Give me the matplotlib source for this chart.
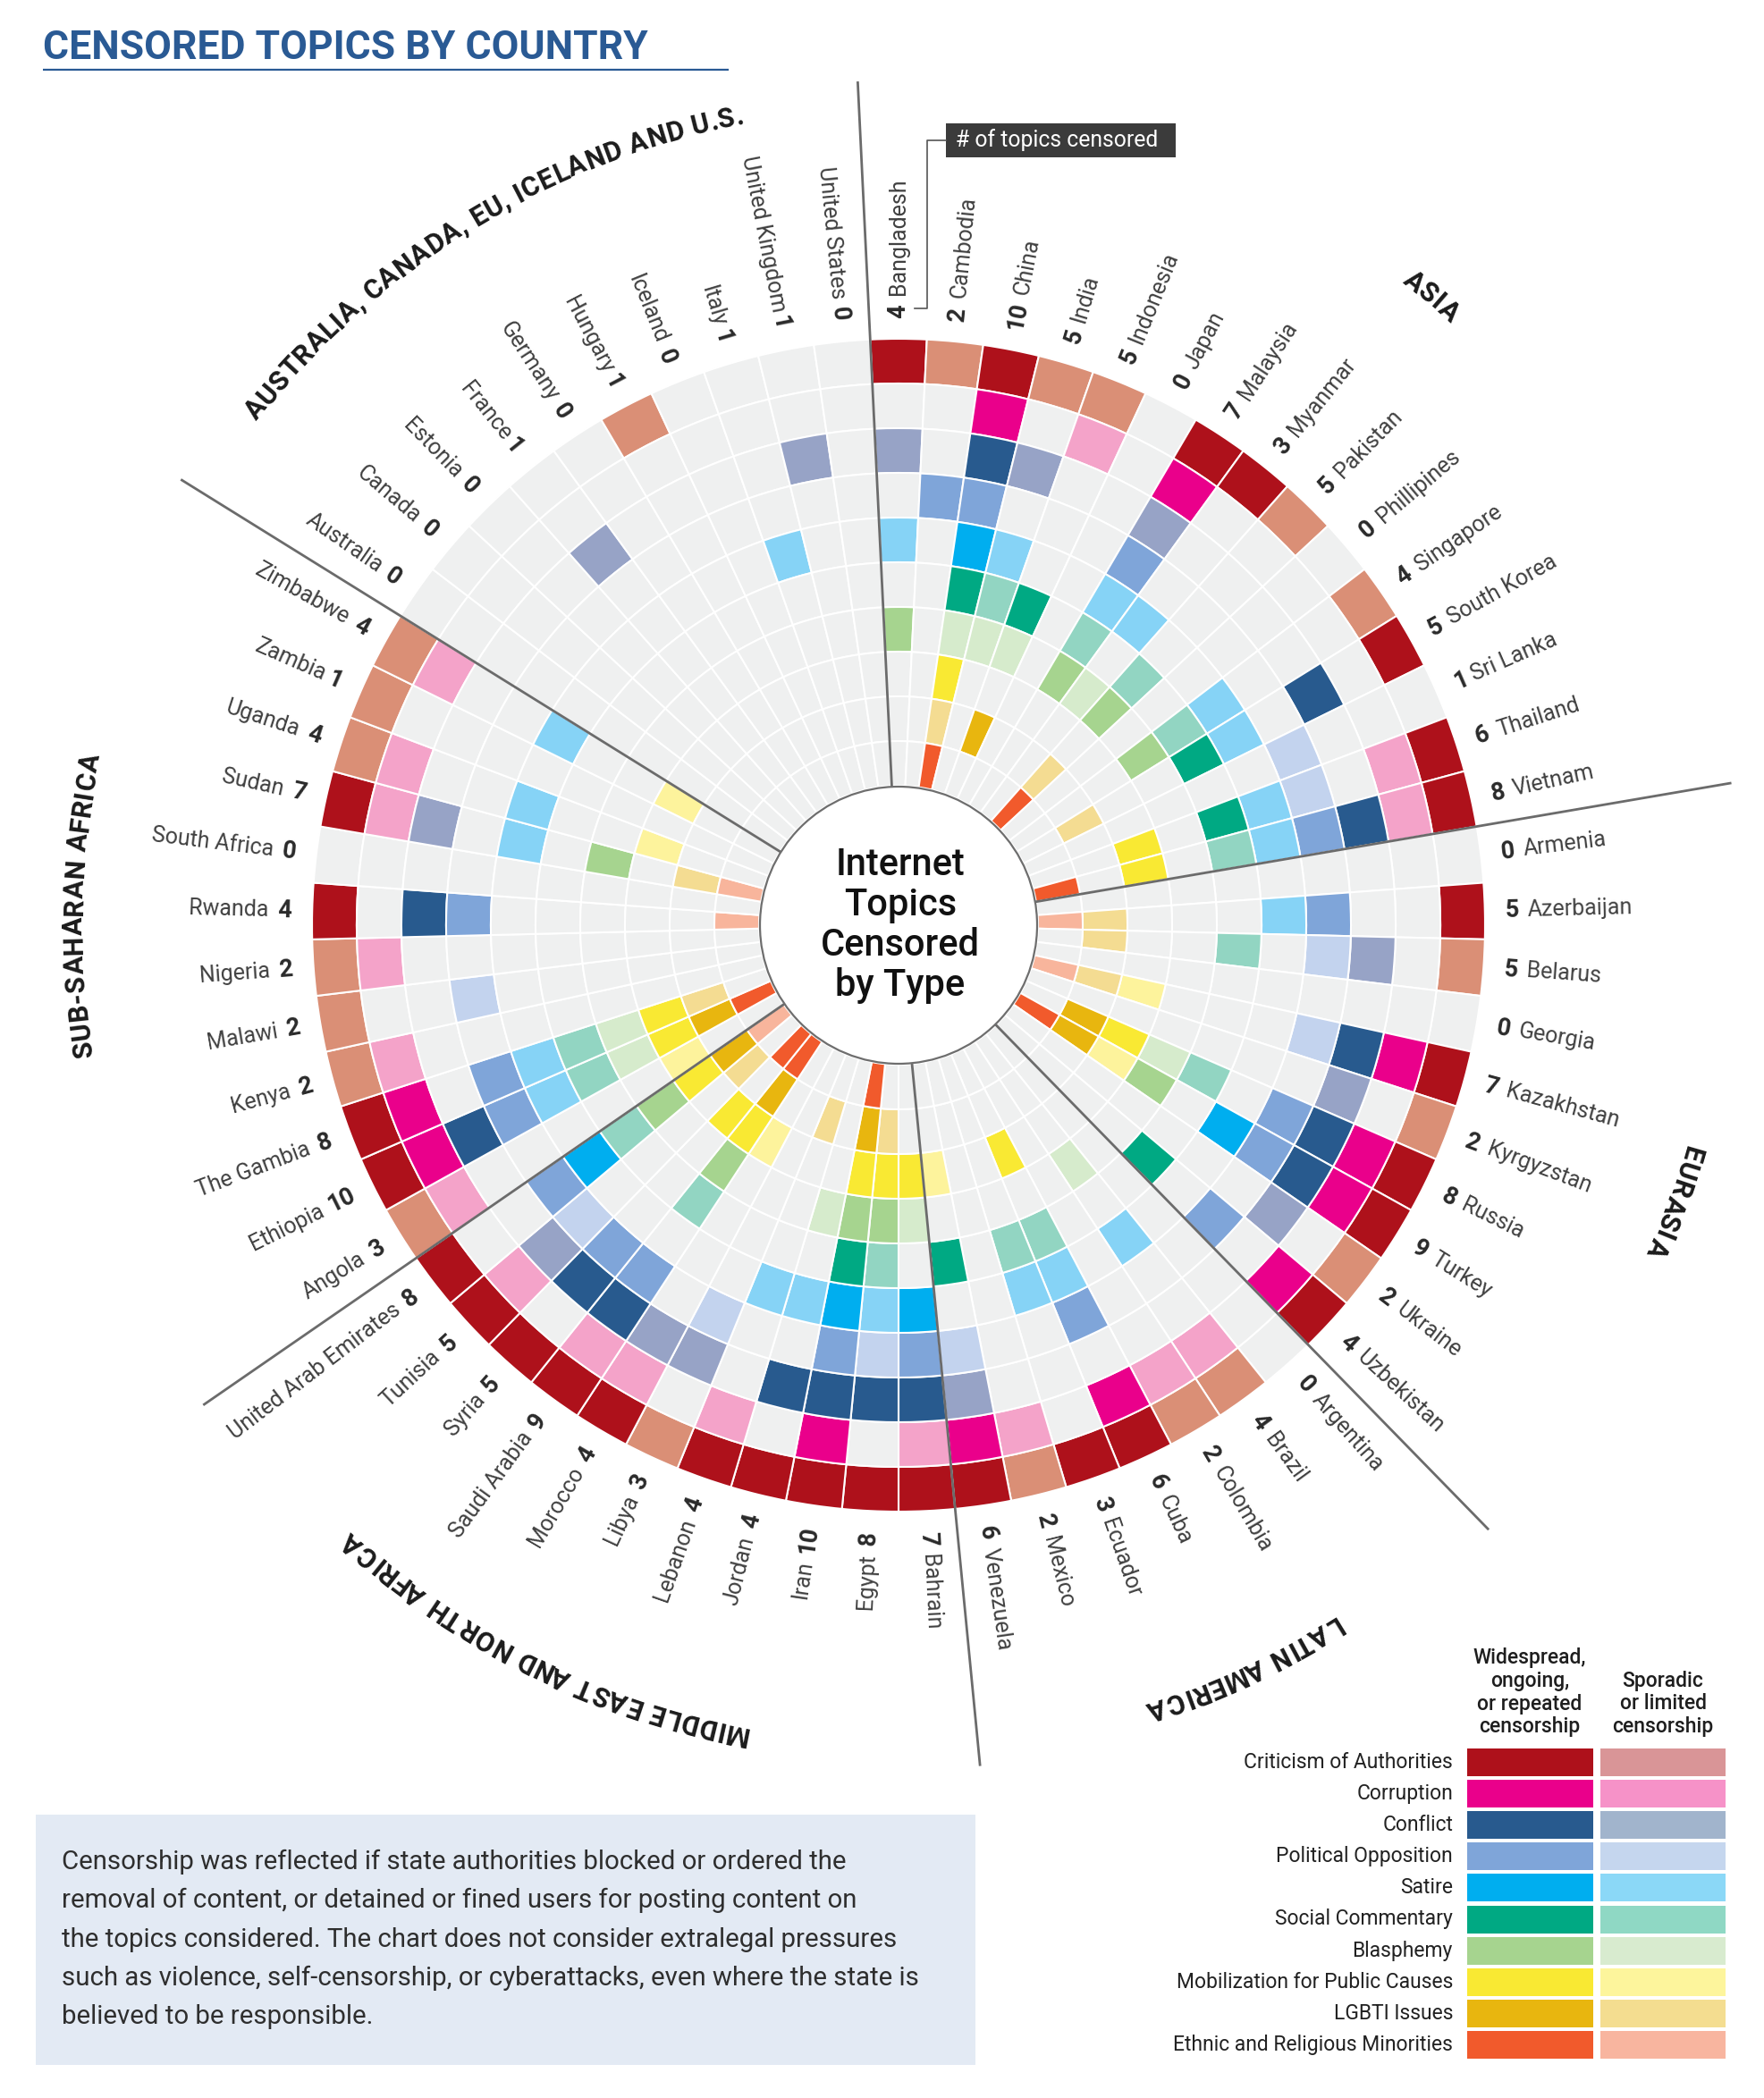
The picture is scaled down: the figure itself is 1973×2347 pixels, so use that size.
import numpy as np
import matplotlib
matplotlib.use('Agg')
import matplotlib.pyplot as plt
from matplotlib.patches import Wedge, Circle, Rectangle
from matplotlib.textpath import TextPath
from matplotlib.font_manager import FontProperties, fontManager

# ---------------------------------------------------------------- data
topics = ['Criticism of Authorities', 'Corruption', 'Conflict', 'Political Opposition',
          'Satire', 'Social Commentary', 'Blasphemy', 'Mobilization for Public Causes',
          'LGBTI Issues', 'Ethnic and Religious Minorities']

regions = ['ASIA', 'EURASIA', 'LATIN AMERICA', 'MIDDLE EAST AND NORTH AFRICA',
           'SUB-SAHARAN AFRICA', 'AUSTRALIA, CANADA, EU, ICELAND AND U.S.']

# level per topic (topic order above): 2 = widespread, 1 = sporadic, 0 = none
asia_countries = ['Bangladesh', 'Cambodia', 'China', 'India', 'Indonesia', 'Japan', 'Malaysia',
                  'Myanmar', 'Pakistan', 'Phillipines', 'Singapore', 'South Korea', 'Sri Lanka',
                  'Thailand', 'Vietnam']
asia_levels = [
    [2, 0, 1, 0, 1, 0, 2, 0, 0, 0],
    [1, 0, 0, 2, 0, 0, 0, 0, 0, 0],
    [2, 2, 2, 2, 2, 2, 1, 2, 1, 2],
    [1, 0, 1, 0, 1, 1, 1, 0, 0, 0],
    [1, 1, 0, 0, 0, 2, 1, 0, 2, 0],
    [0, 0, 0, 0, 0, 0, 0, 0, 0, 0],
    [2, 2, 1, 2, 1, 1, 2, 0, 0, 0],
    [2, 0, 0, 0, 1, 0, 1, 0, 0, 0],
    [1, 0, 0, 0, 0, 1, 2, 0, 1, 2],
    [0, 0, 0, 0, 0, 0, 0, 0, 0, 0],
    [1, 0, 0, 0, 1, 1, 2, 0, 0, 0],
    [2, 0, 2, 0, 1, 2, 0, 0, 1, 0],
    [0, 0, 0, 1, 0, 0, 0, 0, 0, 0],
    [2, 1, 0, 1, 1, 2, 0, 2, 0, 0],
    [2, 1, 2, 2, 1, 1, 0, 2, 0, 2],
]
eurasia_countries = ['Armenia', 'Azerbaijan', 'Belarus', 'Georgia', 'Kazakhstan', 'Kyrgyzstan',
                     'Russia', 'Turkey', 'Ukraine', 'Uzbekistan']
eurasia_levels = [
    [0, 0, 0, 0, 0, 0, 0, 0, 0, 0],
    [2, 0, 0, 2, 1, 0, 0, 0, 1, 1],
    [1, 0, 1, 1, 0, 1, 0, 0, 1, 0],
    [0, 0, 0, 0, 0, 0, 0, 0, 0, 0],
    [2, 2, 2, 1, 0, 0, 0, 1, 1, 1],
    [1, 0, 1, 0, 0, 0, 0, 0, 0, 0],
    [2, 2, 2, 2, 0, 1, 1, 2, 2, 0],
    [2, 2, 2, 2, 2, 0, 2, 1, 2, 2],
    [1, 0, 1, 0, 0, 0, 0, 0, 0, 0],
    [2, 2, 0, 2, 0, 2, 0, 0, 0, 0],
]
latam_countries = ['Argentina', 'Brazil', 'Colombia', 'Cuba', 'Ecuador', 'Mexico', 'Venezuela']
latam_levels = [
    [0, 0, 0, 0, 0, 0, 0, 0, 0, 0],
    [1, 1, 0, 0, 1, 0, 1, 0, 0, 0],
    [1, 1, 0, 0, 0, 0, 0, 0, 0, 0],
    [2, 2, 0, 2, 1, 1, 0, 2, 0, 0],
    [2, 0, 0, 0, 1, 1, 0, 0, 0, 0],
    [1, 1, 0, 0, 0, 0, 0, 0, 0, 0],
    [2, 2, 1, 1, 0, 2, 0, 1, 0, 0],
]
mena_countries = ['Bahrain', 'Egypt', 'Iran', 'Jordan', 'Lebanon', 'Libya', 'Morocco',
                  'Saudi Arabia', 'Syria', 'Tunisia', 'United Arab Emirates']
mena_levels = [
    [2, 1, 2, 2, 2, 0, 1, 2, 0, 0],
    [2, 0, 2, 1, 1, 1, 2, 2, 1, 0],
    [2, 2, 2, 2, 2, 2, 2, 2, 2, 2],
    [2, 0, 2, 0, 1, 0, 1, 0, 0, 0],
    [2, 1, 0, 0, 1, 0, 0, 0, 1, 0],
    [1, 0, 1, 1, 0, 0, 0, 0, 0, 0],
    [2, 1, 1, 0, 0, 0, 0, 1, 0, 0],
    [2, 1, 2, 2, 0, 1, 2, 2, 2, 2],
    [2, 0, 2, 2, 0, 0, 0, 2, 0, 2],
    [2, 1, 1, 1, 0, 0, 0, 0, 1, 0],
    [2, 0, 0, 2, 2, 1, 2, 2, 2, 1],
]
ssa_countries = ['Angola', 'Ethiopia', 'The Gambia', 'Kenya', 'Malawi', 'Nigeria', 'Rwanda',
                 'South Africa', 'Sudan', 'Uganda', 'Zambia', 'Zimbabwe']
ssa_levels = [
    [1, 1, 0, 0, 0, 0, 0, 1, 0, 0],
    [2, 2, 2, 2, 1, 1, 1, 2, 2, 2],
    [2, 2, 0, 2, 1, 1, 1, 2, 1, 0],
    [1, 1, 0, 0, 0, 0, 0, 0, 0, 0],
    [1, 0, 0, 1, 0, 0, 0, 0, 0, 0],
    [1, 1, 0, 0, 0, 0, 0, 0, 0, 0],
    [2, 0, 2, 2, 0, 0, 0, 0, 0, 1],
    [0, 0, 0, 0, 0, 0, 0, 0, 0, 0],
    [2, 1, 1, 0, 1, 0, 2, 0, 1, 1],
    [1, 1, 0, 0, 1, 0, 0, 1, 0, 0],
    [1, 0, 0, 0, 0, 0, 0, 0, 0, 0],
    [1, 1, 0, 0, 1, 0, 0, 1, 0, 0],
]
west_countries = ['Australia', 'Canada', 'Estonia', 'France', 'Germany', 'Hungary', 'Iceland',
                  'Italy', 'United Kingdom', 'United States']
west_levels = [
    [0, 0, 0, 0, 0, 0, 0, 0, 0, 0],
    [0, 0, 0, 0, 0, 0, 0, 0, 0, 0],
    [0, 0, 0, 0, 0, 0, 0, 0, 0, 0],
    [0, 0, 1, 0, 0, 0, 0, 0, 0, 0],
    [0, 0, 0, 0, 0, 0, 0, 0, 0, 0],
    [1, 0, 0, 0, 0, 0, 0, 0, 0, 0],
    [0, 0, 0, 0, 0, 0, 0, 0, 0, 0],
    [0, 0, 0, 0, 1, 0, 0, 0, 0, 0],
    [0, 0, 1, 0, 0, 0, 0, 0, 0, 0],
    [0, 0, 0, 0, 0, 0, 0, 0, 0, 0],
]

# ---------------------------------------------------------------- styles
dark = ['#ae111b', '#ea008b', '#285a8e', '#7fa5d9', '#00aeef', '#00a983',
        '#a6d48f', '#f9e933', '#e8b60f', '#f15a2c']
light = ['#da8f76', '#f4a3c9', '#97a3c6', '#c3d3ee', '#86d3f6', '#92d5c2',
         '#d6ebcc', '#fdf39c', '#f4dc92', '#f8b59c']
legend_light = ['#d99597', '#f692c8', '#a1b4cc', '#c5d6ee', '#8bd8f7', '#8fd8c4',
                '#d8ebcf', '#fdf59c', '#f4dd90', '#f8b59f']
GRAY = '#eff0f0'
TITLE_BLUE = '#2a5a94'
region_label_shift = [1.5, 1.6, 0.0, 1.4, 2.8, -0.9]   # degrees, hand placement

names_avail = {f.name for f in fontManager.ttflist}
BASE = 'Roboto' if 'Roboto' in names_avail else 'DejaVu Sans'
NARROW = 'Liberation Sans Narrow' if 'Liberation Sans Narrow' in names_avail else None

W, H = 1974, 2347
PX = 100 / 72.0
fig = plt.figure(figsize=(W / 100, H / 100), dpi=100)
fig.patch.set_facecolor('white')
ax = fig.add_axes([0, 0, 1, 1])
ax.set_xlim(0, W)
ax.set_ylim(H, 0)
ax.axis('off')

countries = asia_countries + eurasia_countries + latam_countries + mena_countries + ssa_countries + west_countries
levels = asia_levels + eurasia_levels + latam_levels + mena_levels + ssa_levels + west_levels
region_sizes = [len(asia_countries), len(eurasia_countries), len(latam_countries),
                len(mena_countries), len(ssa_countries), len(west_countries)]
N = len(countries)
step = 360.0 / N
cx, cy = 1005, 1035
r_out, ring_w = 656, 50
r_in = 155


def pos(r, th_deg):
    t = np.deg2rad(th_deg)
    return cx + r * np.sin(t), cy - r * np.cos(t)


# ---------------------------------------------------------------- cells
for i, lev in enumerate(levels):
    th = i * step
    for k, v in enumerate(lev):
        col = GRAY if v == 0 else (dark[k] if v == 2 else light[k])
        ax.add_patch(Wedge((cx, cy), r_out - k * ring_w, th - step / 2 - 90, th + step / 2 - 90,
                           width=ring_w, facecolor=col, edgecolor='white', linewidth=1.5, zorder=1))

# separators
starts = np.cumsum([0] + region_sizes[:-1])
for st in starts:
    a = (st - 0.5) * step
    x0, y0 = pos(r_in, a)
    x1, y1 = pos(945, a)
    ax.plot([x0, x1], [y0, y1], color='#6b6b6b', lw=2.0, solid_capstyle='butt', zorder=3)

ax.add_patch(Circle((cx, cy), r_in, facecolor='white', edgecolor='#6e6e6e', lw=1.6, zorder=4))
ctr_prop = FontProperties(family=BASE, weight='medium', size=30)
for j, s in enumerate(['Internet', 'Topics', 'Censored', 'by Type']):
    ax.text(cx + 2, cy - 56 + 45 * j, s, ha='center', va='baseline', fontproperties=ctr_prop,
            color='#111111', zorder=5)

# ---------------------------------------------------------------- country labels
fs_lab = 18
fs_num = 19.5
num_prop = FontProperties(family=BASE, weight='bold', size=fs_num)
name_prop = FontProperties(family=BASE, weight='normal', size=fs_lab)
r_lab, gap = 679, 12
for i, (name, lev) in enumerate(zip(countries, levels)):
    th = i * step
    n = str(sum(1 for v in lev if v > 0))
    wn = TextPath((0, 0), n, size=fs_num * PX, prop=num_prop).get_extents().width
    right = th < 180
    rot = 90 - th if right else 270 - th
    ha = 'left' if right else 'right'
    for rr, s, prop, col in [(r_lab, n, num_prop, '#2a2a2a'),
                             (r_lab + wn + gap, name, name_prop, '#404040')]:
        x, y = pos(rr, th)
        ax.text(x, y, s, rotation=rot, rotation_mode='anchor', ha=ha, va='center',
                fontproperties=prop, color=col)

# ---------------------------------------------------------------- region labels (curved)
reg_fs = 22
reg_prop = FontProperties(family=BASE, weight='bold', size=reg_fs)


def adv(s, prop, size_px):
    w1 = TextPath((0, 0), 'H' + s + 'H', size=size_px, prop=prop).get_extents().width
    w0 = TextPath((0, 0), 'HH', size=size_px, prop=prop).get_extents().width
    return w1 - w0


R_reg = 922
for reg, st, sz, sh in zip(regions, starts, region_sizes, region_label_shift):
    mid = (st + (sz - 1) / 2.0) * step + sh
    advs = [adv(c, reg_prop, reg_fs * PX) + 0.8 for c in reg]
    total = sum(advs)
    a0 = mid - np.rad2deg(total / R_reg) / 2
    cum = 0.0
    for c, w in zip(reg, advs):
        a = a0 + np.rad2deg((cum + w / 2) / R_reg)
        cum += w
        if c == ' ':
            continue
        x, y = pos(R_reg, a)
        ax.text(x, y, c, rotation=-a, rotation_mode='anchor', ha='center', va='center',
                fontproperties=reg_prop, color='#1b1b1b')

# ---------------------------------------------------------------- title
if NARROW:
    tprop = FontProperties(family=NARROW, weight='bold', size=35)
else:
    tprop = FontProperties(family=BASE, weight='bold', size=32)
ax.text(48, 66, 'CENSORED TOPICS BY COUNTRY', ha='left', va='baseline', fontproperties=tprop,
        color=TITLE_BLUE)
ax.plot([48, 815], [78, 78], color=TITLE_BLUE, lw=1.6, solid_capstyle='butt')

# ---------------------------------------------------------------- callout
ax.add_patch(Rectangle((1058, 138), 257, 38, facecolor='#3b3b3b', edgecolor='none'))
ax.text(1069, 157, '# of topics censored', ha='left', va='center',
        fontproperties=FontProperties(family=BASE, size=17.8), color='white')
ax.plot([1058, 1037, 1037, 1023], [157, 157, 345, 345], color='#555555', lw=1.2)

# ---------------------------------------------------------------- legend
leg_prop = FontProperties(family=BASE, size=16.5)
hdr_prop = FontProperties(family=BASE, weight='medium', size=16.5)
for j, s in enumerate(['Widespread,', 'ongoing,', 'or repeated', 'censorship']):
    ax.text(1711, 1855 + 25.5 * j, s, ha='center', va='center', fontproperties=hdr_prop, color='#1e1e1e')
for j, s in enumerate(['Sporadic', 'or limited', 'censorship']):
    ax.text(1860, 1880.5 + 25.5 * j, s, ha='center', va='center', fontproperties=hdr_prop, color='#1e1e1e')
for j, t in enumerate(topics):
    yc = 1971 + 35.2 * j
    ax.add_patch(Rectangle((1641, yc - 15.5), 141, 31, facecolor=dark[j], edgecolor='none'))
    ax.add_patch(Rectangle((1790, yc - 15.5), 140, 31, facecolor=legend_light[j], edgecolor='none'))
    ax.text(1625, yc, t, ha='right', va='center', fontproperties=leg_prop, color='#222222')

# ---------------------------------------------------------------- note box
ax.add_patch(Rectangle((40, 2030), 1051, 280, facecolor='#e3eaf4', edgecolor='none'))
note_lines = ['Censorship was reflected if state authorities blocked or ordered the',
              'removal of content, or detained or fined users for posting content on',
              'the topics considered. The chart does not consider extralegal pressures',
              'such as violence, self-censorship, or cyberattacks, even where the state is',
              'believed to be responsible.']
note_prop = FontProperties(family=BASE, size=21.2)
for j, s in enumerate(note_lines):
    ax.text(69, 2083 + 43.3 * j, s, ha='left', va='center', fontproperties=note_prop, color='#2e2e2e')

fig.savefig('out.png', dpi=100, facecolor='white')
